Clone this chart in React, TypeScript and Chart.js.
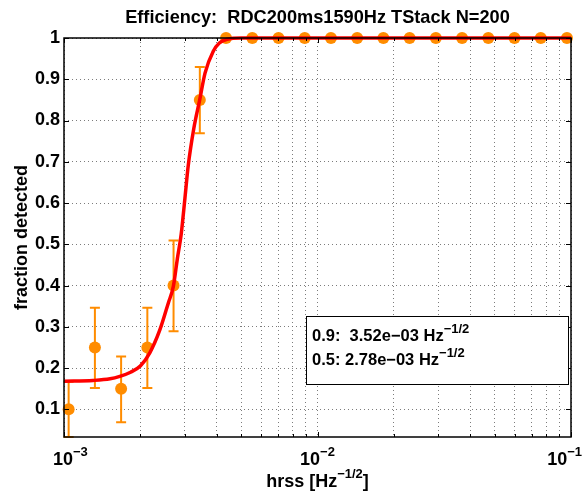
import React, { useEffect, useRef } from "react";
import { Chart, registerables } from "chart.js";

Chart.register(...registerables);

const TITLE = "Efficiency:  RDC200ms1590Hz TStack N=200";
const Y_LABEL = "fraction detected";

const HRSS = [
  1.043e-3, 1.324e-3, 1.68e-3, 2.132e-3, 2.705e-3, 3.434e-3, 4.357e-3, 5.53e-3, 7.017e-3, 8.905e-3,
  1.13e-2, 1.434e-2, 1.819e-2, 2.309e-2, 2.93e-2, 3.718e-2, 4.718e-2, 5.986e-2, 7.597e-2, 9.64e-2,
];
const FRACTION = [0.1, 0.25, 0.15, 0.25, 0.4, 0.85, 1, 1, 1, 1, 1, 1, 1, 1, 1, 1, 1, 1, 1, 1];
const ERR_LOW = [0.033, 0.152, 0.069, 0.152, 0.289, 0.769, 1, 1, 1, 1, 1, 1, 1, 1, 1, 1, 1, 1, 1, 1];
const ERR_HIGH = [0.167, 0.346, 0.228, 0.346, 0.509, 0.93, 1, 1, 1, 1, 1, 1, 1, 1, 1, 1, 1, 1, 1, 1];

const FIT_X = [
  1.0e-3, 1.3e-3, 1.52e-3, 1.66e-3, 1.83e-3, 2.0e-3, 2.18e-3, 2.39e-3, 2.58e-3, 2.7e-3, 2.8e-3,
  2.9e-3, 3.0e-3, 3.09e-3, 3.25e-3, 3.43e-3, 3.6e-3, 3.88e-3, 4.1e-3, 4.4e-3, 5.0e-3, 1.0e-1,
];
const FIT_Y = [
  0.168, 0.17, 0.174, 0.18, 0.19, 0.205, 0.237, 0.293, 0.358, 0.398, 0.465,
  0.525, 0.612, 0.69, 0.78, 0.85, 0.915, 0.968, 0.988, 0.997, 1.0, 1.0,
];

const Y_TICKS = [0.1, 0.2, 0.3, 0.4, 0.5, 0.6, 0.7, 0.8, 0.9, 1];
const X_MAJOR = [1e-3, 1e-2, 1e-1];
const X_MAJOR_EXP = ["\u22123", "\u22122", "\u22121"];
const X_MINOR_MULT = [2, 3, 4, 5, 6, 7, 8, 9];
const Y_MIN = 0.033;
const Y_MAX = 1;

const LEGEND_LINES = [
  { lead: "0.9:  3.52e\u221203 Hz", sup: "\u22121/2" },
  { lead: "0.5: 2.78e\u221203 Hz", sup: "\u22121/2" },
];

const ORANGE = "#FF8C00";
const FONT = "'Liberation Sans', Arial, Helvetica, sans-serif";

function allXTicks(): number[] {
  const out: number[] = [];
  for (let d = 0; d < X_MAJOR.length; d++) {
    out.push(X_MAJOR[d]);
    if (d < X_MAJOR.length - 1) for (const m of X_MINOR_MULT) out.push(X_MAJOR[d] * m);
  }
  return out;
}

const overlay = {
  id: "overlay",
  beforeDatasetsDraw(chart: any) {
    const ctx = chart.ctx;
    const xs = chart.scales.x;
    const ys = chart.scales.y;
    ctx.save();
    ctx.strokeStyle = ORANGE;
    ctx.lineWidth = 2;
    for (let i = 0; i < HRSS.length; i++) {
      if (ERR_HIGH[i] - ERR_LOW[i] <= 0) continue;
      const px = xs.getPixelForValue(HRSS[i]);
      const lo = ys.getPixelForValue(ERR_LOW[i]);
      const hi = ys.getPixelForValue(ERR_HIGH[i]);
      ctx.beginPath();
      ctx.moveTo(px, lo);
      ctx.lineTo(px, hi);
      ctx.moveTo(px - 5, lo);
      ctx.lineTo(px + 5, lo);
      ctx.moveTo(px - 5, hi);
      ctx.lineTo(px + 5, hi);
      ctx.stroke();
    }
    ctx.restore();
  },
  afterDraw(chart: any) {
    const ctx = chart.ctx;
    const a = chart.chartArea;
    const xs = chart.scales.x;
    const ys = chart.scales.y;
    ctx.save();
    ctx.strokeStyle = "#000";
    ctx.lineWidth = 1;
    ctx.beginPath();
    for (const v of Y_TICKS) {
      const py = Math.round(ys.getPixelForValue(v)) + 0.5;
      ctx.moveTo(a.left, py);
      ctx.lineTo(a.left + 5, py);
      ctx.moveTo(a.right, py);
      ctx.lineTo(a.right - 5, py);
    }
    for (const v of allXTicks()) {
      const px = Math.round(xs.getPixelForValue(v)) + 0.5;
      const len = X_MAJOR.includes(v) ? 5 : 3;
      ctx.moveTo(px, a.bottom);
      ctx.lineTo(px, a.bottom - len);
      ctx.moveTo(px, a.top);
      ctx.lineTo(px, a.top + len);
    }
    ctx.stroke();
    ctx.lineWidth = 1.5;
    ctx.strokeRect(a.left, a.top, a.right - a.left, a.bottom - a.top);

    ctx.fillStyle = "#000";
    ctx.font = `bold 18.2px ${FONT}`;
    ctx.textAlign = "center";
    ctx.textBaseline = "alphabetic";
    ctx.fillText(TITLE, (a.left + a.right) / 2, 23);

    ctx.save();
    ctx.translate(27, (a.top + a.bottom) / 2);
    ctx.rotate(-Math.PI / 2);
    ctx.font = `bold 18px ${FONT}`;
    ctx.fillText(Y_LABEL, 0, 0);
    ctx.restore();

    const W = chart.width;
    for (let i = 0; i < X_MAJOR.length; i++) {
      const px = xs.getPixelForValue(X_MAJOR[i]);
      ctx.font = `bold 18px ${FONT}`;
      const wb = ctx.measureText("10").width;
      ctx.font = `bold 13px ${FONT}`;
      const ws = ctx.measureText(X_MAJOR_EXP[i]).width;
      let left = px - (wb + ws) / 2;
      if (i === 0) left = Math.max(left, 53);
      if (left + wb + ws > W - 1) left = W - 1 - wb - ws;
      ctx.textAlign = "left";
      ctx.font = `bold 18px ${FONT}`;
      ctx.fillText("10", left, 465);
      ctx.font = `bold 13px ${FONT}`;
      ctx.fillText(X_MAJOR_EXP[i], left + wb, 456);
    }

    {
      const parts = ["hrss [Hz", "\u22121/2", "]"];
      ctx.font = `bold 18px ${FONT}`;
      const w0 = ctx.measureText(parts[0]).width;
      const w2 = ctx.measureText(parts[2]).width;
      ctx.font = `bold 13px ${FONT}`;
      const w1 = ctx.measureText(parts[1]).width;
      const x = (a.left + a.right) / 2 - (w0 + w1 + w2) / 2;
      ctx.textAlign = "left";
      ctx.font = `bold 18px ${FONT}`;
      ctx.fillText(parts[0], x, 487);
      ctx.font = `bold 13px ${FONT}`;
      ctx.fillText(parts[1], x + w0, 478);
      ctx.font = `bold 18px ${FONT}`;
      ctx.fillText(parts[2], x + w0 + w1, 487);
    }

    const bx = 306, by = 316, bw = 262, bh = 68;
    ctx.fillStyle = "#fff";
    ctx.fillRect(bx, by, bw, bh);
    ctx.strokeStyle = "#000";
    ctx.lineWidth = 1;
    ctx.strokeRect(bx + 0.5, by + 0.5, bw, bh);
    ctx.fillStyle = "#000";
    LEGEND_LINES.forEach((ln, k) => {
      const base = 341 + k * 24;
      ctx.font = `bold 16.5px ${FONT}`;
      const w = ctx.measureText(ln.lead).width;
      ctx.fillText(ln.lead, 312, base);
      ctx.font = `bold 13px ${FONT}`;
      ctx.fillText(ln.sup, 312 + w, base - 8);
    });
    ctx.restore();
  },
};

export default function App() {
  const ref = useRef<HTMLCanvasElement | null>(null);
  useEffect(() => {
    if (!ref.current) return;
    const chart = new Chart(ref.current, {
      type: "scatter",
      data: {
        datasets: [
          {
            label: "fit",
            data: FIT_X.map((x, i) => ({ x, y: FIT_Y[i] })),
            showLine: true,
            borderColor: "#FF0000",
            borderWidth: 3.5,
            pointRadius: 0,
            cubicInterpolationMode: "monotone",
            clip: false,
            order: 0,
          } as any,
          {
            label: "data",
            data: HRSS.map((x, i) => ({ x, y: FRACTION[i] })),
            showLine: false,
            backgroundColor: ORANGE,
            borderColor: ORANGE,
            borderWidth: 0,
            pointRadius: 6,
            clip: false,
            order: 1,
          } as any,
        ],
      },
      options: {
        responsive: false,
        animation: false,
        events: [],
        layout: { padding: { left: 0, right: 12, top: 38, bottom: 0 } },
        plugins: { legend: { display: false }, tooltip: { enabled: false }, title: { display: false } },
        scales: {
          x: {
            type: "logarithmic",
            min: 1e-3,
            max: 1e-1,
            afterBuildTicks: (s: any) => {
              s.ticks = allXTicks().map((v) => ({ value: v }));
            },
            afterFit: (s: any) => {
              s.height = 56;
            },
            ticks: { display: false },
            border: { display: false, dash: [1, 3] },
            grid: { color: "rgba(110,110,110,0.9)", lineWidth: 1, drawTicks: false },
          },
          y: {
            type: "linear",
            min: Y_MIN,
            max: Y_MAX,
            afterBuildTicks: (s: any) => {
              s.ticks = Y_TICKS.map((v) => ({ value: v }));
            },
            afterFit: (s: any) => {
              s.width = 64;
            },
            ticks: {
              color: "#000",
              padding: 4,
              font: { family: FONT, size: 18, weight: "bold" },
              callback: (v: any) => String(Math.round(Number(v) * 10) / 10),
            },
            border: { display: false, dash: [1, 3] },
            grid: { color: "rgba(110,110,110,0.9)", lineWidth: 1, drawTicks: false },
          },
        },
      },
      plugins: [overlay],
    } as any);
    return () => chart.destroy();
  }, []);
  return (
    <div style={{ position: "fixed", left: 0, top: 0, width: 583, height: 493, background: "#fff" }}>
      <canvas ref={ref} width={583} height={493} style={{ width: 583, height: 493 }} />
    </div>
  );
}
